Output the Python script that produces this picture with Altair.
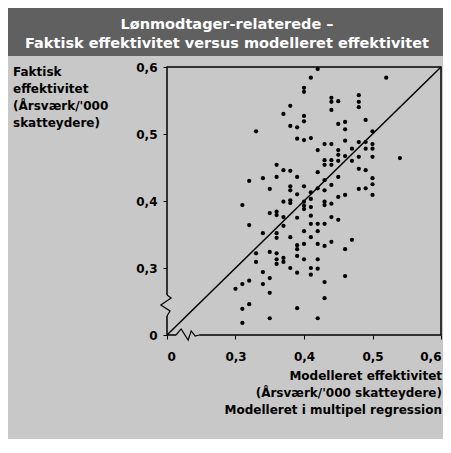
import altair as alt
import pandas as pd

# ---------------- data ----------------
title_lines = ["Lønmodtager-relaterede –",
               "Faktisk effektivitet versus modelleret effektivitet"]
y_title_lines = ["Faktisk", "effektivitet", "(Årsværk/'000", "skatteydere)"]
x_title_lines = ["Modelleret effektivitet", "(Årsværk/'000 skatteydere)",
                 "Modelleret i multipel regression"]
tick_values = [0.2, 0.3, 0.4, 0.5, 0.6]

x_model = [
    0.42, 0.41, 0.40, 0.40, 0.38, 0.37, 0.40, 0.40, 0.38, 0.39,
    0.33, 0.39, 0.40, 0.41, 0.42, 0.36, 0.37, 0.38, 0.36, 0.39,
    0.34, 0.32, 0.40, 0.38, 0.38, 0.35, 0.39, 0.41, 0.42, 0.42,
    0.52, 0.44, 0.44, 0.45, 0.48, 0.48, 0.48, 0.44, 0.45, 0.46,
    0.46, 0.49, 0.50, 0.43, 0.44, 0.46, 0.48, 0.49, 0.50, 0.50,
    0.50, 0.47, 0.45, 0.46, 0.49, 0.45, 0.48, 0.54, 0.43, 0.43,
    0.44, 0.44, 0.45, 0.47, 0.48, 0.49, 0.45, 0.43, 0.50, 0.50,
    0.44, 0.48, 0.49, 0.43, 0.50, 0.46, 0.45, 0.41, 0.31, 0.37,
    0.38, 0.38, 0.40, 0.40, 0.40, 0.41, 0.43, 0.43, 0.44, 0.35,
    0.36, 0.36, 0.39, 0.37, 0.41, 0.44, 0.45, 0.42, 0.41, 0.43,
    0.32, 0.37, 0.34, 0.36, 0.36, 0.40, 0.42, 0.38, 0.41, 0.40,
    0.39, 0.39, 0.42, 0.47, 0.44, 0.43, 0.46, 0.33, 0.35, 0.36,
    0.36, 0.37, 0.37, 0.39, 0.40, 0.33, 0.36, 0.42, 0.38, 0.41,
    0.42, 0.39, 0.41, 0.46, 0.34, 0.35, 0.32, 0.31, 0.34, 0.35,
    0.30, 0.43, 0.43, 0.39, 0.32, 0.31, 0.35, 0.31, 0.42,
]
y_actual = [
    0.597, 0.584, 0.569, 0.563, 0.542, 0.530, 0.527, 0.519, 0.512, 0.510,
    0.504, 0.493, 0.491, 0.494, 0.476, 0.454, 0.446, 0.445, 0.436, 0.436,
    0.434, 0.430, 0.422, 0.422, 0.416, 0.418, 0.410, 0.413, 0.443, 0.419,
    0.584, 0.554, 0.548, 0.549, 0.558, 0.548, 0.540, 0.536, 0.515, 0.518,
    0.507, 0.521, 0.504, 0.485, 0.485, 0.490, 0.488, 0.488, 0.485, 0.478,
    0.466, 0.478, 0.476, 0.467, 0.478, 0.469, 0.466, 0.464, 0.461, 0.454,
    0.461, 0.454, 0.460, 0.460, 0.448, 0.446, 0.436, 0.431, 0.434, 0.425,
    0.424, 0.418, 0.419, 0.416, 0.409, 0.409, 0.406, 0.403, 0.394, 0.399,
    0.401, 0.397, 0.399, 0.393, 0.388, 0.391, 0.399, 0.394, 0.396, 0.382,
    0.384, 0.379, 0.375, 0.376, 0.378, 0.376, 0.372, 0.366, 0.366, 0.366,
    0.364, 0.363, 0.352, 0.352, 0.345, 0.355, 0.355, 0.346, 0.346, 0.336,
    0.334, 0.328, 0.336, 0.342, 0.339, 0.333, 0.328, 0.322, 0.324, 0.322,
    0.313, 0.315, 0.309, 0.318, 0.313, 0.309, 0.306, 0.313, 0.300, 0.300,
    0.299, 0.293, 0.290, 0.288, 0.294, 0.285, 0.281, 0.276, 0.276, 0.263,
    0.269, 0.279, 0.255, 0.240, 0.246, 0.239, 0.225, 0.218, 0.225,
]

diag = [0.2, 0.6]
ybreak_x = [0.2, 0.206, 0.191, 0.2044, 0.2]
ybreak_y = [0.2597, 0.2552, 0.2448, 0.2358, 0.2284]
xbreak_x = [0.2132, 0.2206, 0.2309, 0.2353, 0.2412, 0.2471]
xbreak_y = [0.2, 0.209, 0.1925, 0.206, 0.1985, 0.2]

# ---------------- styling ----------------
BG = "#c8c8c8"
BAR = "#606060"
FONT = "DejaVu Sans"
W, H = 274, 268

pts = pd.DataFrame({"x": x_model, "y": y_actual})
one = pd.DataFrame({"a": [0]})

xscale = alt.Scale(domain=[0.2, 0.6], nice=False, zero=False)
yscale = alt.Scale(domain=[0.2, 0.6], nice=False, zero=False)
label_expr = "datum.value < 0.25 ? '0' : replace(format(datum.value, '.1f'), '.', ',')"

xaxis = alt.Axis(values=tick_values, labelExpr=label_expr, title=None, grid=False,
                 domain=False, tickSize=4, tickColor="black", labelPadding=12,
                 labelFont=FONT, labelFontWeight="bold", labelFontSize=12,
                 labelColor="black", labelFlush=True)
yaxis = alt.Axis(values=tick_values, labelExpr=label_expr, title=None, grid=False,
                 domain=False, tickSize=4, tickColor="black", labelPadding=6,
                 labelFont=FONT, labelFontWeight="bold", labelFontSize=12,
                 labelColor="black")

points = alt.Chart(pts).mark_circle(size=18, color="black", opacity=1).encode(
    x=alt.X("x:Q", scale=xscale, axis=xaxis),
    y=alt.Y("y:Q", scale=yscale, axis=yaxis),
)

diag_line = alt.Chart(pd.DataFrame({"x": diag, "y": diag})).mark_line(
    color="black", strokeWidth=1.5).encode(
    x=alt.X("x:Q", scale=xscale), y=alt.Y("y:Q", scale=yscale))

# cover the frame where the axis breaks are
ycover = alt.Chart(pd.DataFrame({"x": [0.2], "y": [ybreak_y[0]], "y2": [ybreak_y[-1]]})).mark_rule(
    color=BG, strokeWidth=3).encode(
    x=alt.X("x:Q", scale=xscale), y=alt.Y("y:Q", scale=yscale), y2="y2:Q")
xcover = alt.Chart(pd.DataFrame({"x": [xbreak_x[0]], "x2": [xbreak_x[-1]], "y": [0.2]})).mark_rule(
    color=BG, strokeWidth=3).encode(
    x=alt.X("x:Q", scale=xscale), x2="x2:Q", y=alt.Y("y:Q", scale=yscale))

ybreak = alt.Chart(pd.DataFrame({"x": ybreak_x, "y": ybreak_y, "o": list(range(len(ybreak_x)))})).mark_line(
    color="black", strokeWidth=1.2, clip=False).encode(
    x=alt.X("x:Q", scale=xscale), y=alt.Y("y:Q", scale=yscale), order="o:Q")
xbreak = alt.Chart(pd.DataFrame({"x": xbreak_x, "y": xbreak_y, "o": list(range(len(xbreak_x)))})).mark_line(
    color="black", strokeWidth=1.2, clip=False).encode(
    x=alt.X("x:Q", scale=xscale), y=alt.Y("y:Q", scale=yscale), order="o:Q")

title_bar = alt.Chart(one).mark_rect(color=BAR).encode(
    x=alt.value(-162), x2=alt.value(280), y=alt.value(-60), y2=alt.value(-11))

title_text = alt.Chart(one).mark_text(
    text=title_lines, font=FONT, fontWeight="bold", fontSize=14.5, color="white",
    align="center", baseline="alphabetic", lineHeight=19).encode(
    x=alt.value(60), y=alt.value(-38))

y_title = alt.Chart(one).mark_text(
    text=y_title_lines, font=FONT, fontWeight="bold", fontSize=12, color="black",
    align="left", baseline="alphabetic", lineHeight=17).encode(
    x=alt.value(-154), y=alt.value(9))

x_title = alt.Chart(one).mark_text(
    text=x_title_lines, font=FONT, fontWeight="bold", fontSize=12, color="black",
    align="right", baseline="alphabetic", lineHeight=17).encode(
    x=alt.value(W + 1), y=alt.value(313))

chart = alt.layer(
    title_bar, title_text, y_title, x_title,
    diag_line, ycover, xcover, ybreak, xbreak, points,
).properties(
    width=W, height=H,
    autosize=alt.AutoSizeParams(type="none"),
    padding={"left": 159, "top": 59, "right": 2, "bottom": 104},
    background=BG,
).configure_view(
    fill=BG, stroke="black", strokeWidth=1.5
)

chart.save("out.html", embed_options={"renderer": "svg", "actions": False})
